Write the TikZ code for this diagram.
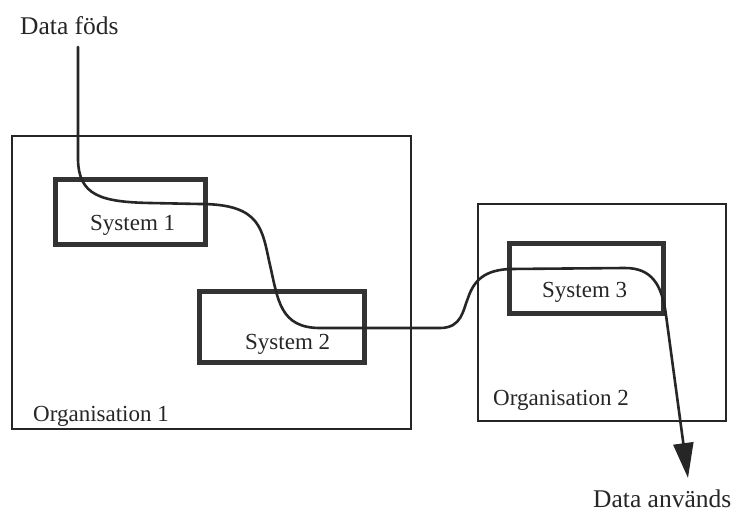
\documentclass[tikz,border=0pt]{standalone}
\usepackage{fontspec}
\setmainfont{Liberation Serif}
\usetikzlibrary{arrows.meta}
\begin{document}
\begin{tikzpicture}[x=1pt,y=-1pt,
  orgbox/.style={draw=black!85, line width=1.8pt, minimum width=#1, inner sep=0pt},
  sysbox/.style={draw=black!80, line width=4.5pt, inner sep=0pt},
  label/.style={anchor=base west, inner sep=0pt, font=\fontsize{23}{27}\selectfont, text=black!85},
  endlabel/.style={anchor=base west, inner sep=0pt, font=\fontsize{25.5}{30}\selectfont, text=black!85},
  flow/.style={draw=black!85, line width=2.6pt, line cap=round, line join=round}
]
\useasboundingbox[fill=white] (0,0) rectangle (736,513);

% organisations
\node[orgbox=399pt, minimum height=293pt] (org1) at (211.5,282.5) {};
\node[orgbox=248pt, minimum height=217pt] (org2) at (602,312.5) {};

% systems
\node[sysbox, minimum width=150pt, minimum height=65pt] (sys1) at (130.5,212) {};
\node[sysbox, minimum width=165pt, minimum height=71pt] (sys2) at (282,327) {};
\node[sysbox, minimum width=154pt, minimum height=70pt] (sys3) at (586.5,278.5) {};

% labels
\node[label] (l1) at (90,230) {System 1};
\node[label] (l2) at (245,349) {System 2};
\node[label] (l3) at (542,297) {System 3};
\node[label] (lo1) at (33,421) {Organisation 1};
\node[label] (lo2) at (493,405) {Organisation 2};
\node[endlabel] (born) at (20,35) {Data föds};
\node[endlabel] (used) at (593,507) {Data används};

% data flow through the systems
\coordinate (src) at (78,47);
\coordinate (dst) at (688,478);
\draw[flow, -{Triangle[length=35pt, width=20pt]}]
  (src) -- (78,160)
  .. controls (79,195) and (100,202) .. (150,203)
  -- (200,204)
  .. controls (262,204) and (262,230) .. (270,265)
  .. controls (278,300) and (280,328) .. (320,328)
  -- (440,328)
  .. controls (462,328) and (463,310) .. (468,298)
  .. controls (474,280) and (485,270) .. (510,269)
  -- (625,268)
  .. controls (652,268) and (662,285) .. (666,315)
  -- (dst);
\end{tikzpicture}
\end{document}
